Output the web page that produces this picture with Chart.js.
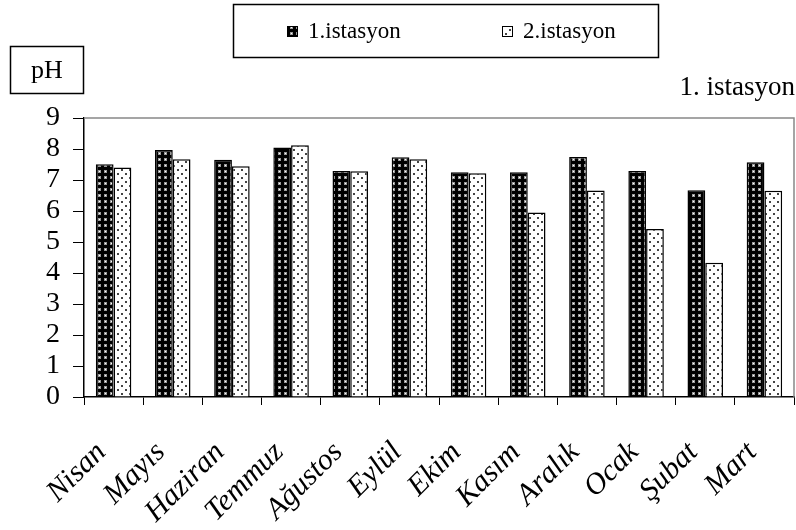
<!DOCTYPE html>
<html>
<head>
<meta charset="utf-8">
<script src="https://cdn.jsdelivr.net/npm/chart.js@4.4.1/dist/chart.umd.min.js"></script>
<style>
  html, body { margin: 0; padding: 0; background: #fff; }
  #wrap { width: 796px; height: 530px; position: relative; }
</style>
</head>
<body>
<div id="wrap"><canvas id="chart"></canvas></div>
<script>
const months = ['Nisan', 'Mayıs', 'Haziran', 'Temmuz', 'Ağustos', 'Eylül', 'Ekim', 'Kasım', 'Aralık', 'Ocak', 'Şubat', 'Mart'];
const station1 = [7.51, 7.97, 7.65, 8.05, 7.29, 7.73, 7.25, 7.25, 7.74, 7.29, 6.67, 7.57];
const station2 = [7.40, 7.67, 7.44, 8.12, 7.28, 7.67, 7.22, 5.95, 6.66, 5.42, 4.33, 6.65];
const seriesNames = ['1.istasyon', '2.istasyon'];
const yTicks = [0, 1, 2, 3, 4, 5, 6, 7, 8, 9];

const serif = '"Liberation Serif", "Times New Roman", serif';

// dotted fills like the old excel patterns
function darkDots() {
  const c = document.createElement('canvas');
  c.width = 6; c.height = 6;
  const g = c.getContext('2d');
  g.fillStyle = '#000';
  g.fillRect(0, 0, 6, 6);
  g.fillStyle = '#999';
  g.fillRect(2, 2, 3, 3);
  g.fillStyle = '#fff';
  g.fillRect(3, 3, 1, 1);
  return g.createPattern(c, 'repeat');
}

function lightDots() {
  const c = document.createElement('canvas');
  c.width = 8; c.height = 8;
  const g = c.getContext('2d');
  g.fillStyle = '#fff';
  g.fillRect(0, 0, 8, 8);
  g.fillStyle = '#444';
  g.fillRect(1, 1, 2, 2);
  g.fillRect(5, 5, 2, 2);
  return g.createPattern(c, 'repeat');
}

const extras = {
  id: 'extras',
  afterDraw(chart) {
    const ctx = chart.ctx;
    const a = chart.chartArea;
    ctx.save();

    // grey frame top and right
    ctx.strokeStyle = '#888';
    ctx.lineWidth = 1.5;
    ctx.beginPath();
    ctx.moveTo(a.left, a.top);
    ctx.lineTo(a.right, a.top);
    ctx.lineTo(a.right, a.bottom);
    ctx.stroke();

    // legend box
    ctx.strokeStyle = '#000';
    ctx.lineWidth = 1.5;
    ctx.strokeRect(233.5, 4.5, 425, 53);
    ctx.font = '23px ' + serif;
    ctx.textBaseline = 'middle';
    ctx.fillStyle = '#000';
    const starts = [287, 502];
    chart.data.datasets.forEach((ds, i) => {
      const x = starts[i];
      ctx.fillStyle = ds.backgroundColor;
      ctx.fillRect(x, 26, 11, 11);
      ctx.lineWidth = 1;
      ctx.strokeRect(x + 0.5, 26.5, 10, 10);
      ctx.fillStyle = '#000';
      ctx.textAlign = 'left';
      ctx.fillText(ds.label, x + 21, 32);
    });

    // unit box
    ctx.lineWidth = 1.5;
    ctx.strokeRect(10.5, 46.5, 73, 47);
    ctx.font = '26px ' + serif;
    ctx.textAlign = 'center';
    ctx.fillText('pH', 47, 71);

    ctx.font = '27px ' + serif;
    ctx.textAlign = 'right';
    ctx.fillText('1. istasyon', 795, 88);
    ctx.restore();
  }
};

new Chart(document.getElementById('chart'), {
  type: 'bar',
  data: {
    labels: months,
    datasets: [
      {
        label: seriesNames[0],
        data: station1,
        backgroundColor: darkDots(),
        borderColor: '#000',
        borderWidth: 1.5,
        barPercentage: 1.0,
        categoryPercentage: 0.6,
      },
      {
        label: seriesNames[1],
        data: station2,
        backgroundColor: lightDots(),
        borderColor: '#000',
        borderWidth: 1.5,
        barPercentage: 1.0,
        categoryPercentage: 0.6,
      },
    ],
  },
  options: {
    responsive: true,
    maintainAspectRatio: false,
    animation: false,
    layout: { padding: { top: 118, right: 2, left: 0, bottom: 0 } },
    plugins: {
      legend: { display: false },
      tooltip: { enabled: false },
    },
    scales: {
      x: {
        grid: { drawOnChartArea: false, color: '#000', tickLength: 8, offset: true },
        border: { color: '#000', width: 1.5 },
        ticks: {
          color: '#000',
          font: { family: serif, size: 30, style: 'italic' },
          minRotation: 45,
          maxRotation: 45,
          autoSkip: false,
          labelOffset: -12,
          padding: 30,
        },
        afterFit: (s) => {
          s.height = 133;
          s.paddingLeft = 0;
          s.paddingRight = 0;
        },
      },
      y: {
        min: 0,
        max: 9,
        grid: { drawOnChartArea: false, color: '#000', tickLength: 11 },
        border: { color: '#000', width: 1.5 },
        ticks: {
          stepSize: 1,
          autoSkip: false,
          color: '#000',
          font: { family: serif, size: 28 },
          padding: 13,
          callback: (v) => yTicks.includes(v) ? String(v) : '',
        },
        afterFit: (s) => { s.width = 84; },
      },
    },
  },
  plugins: [extras],
});
</script>
</body>
</html>
